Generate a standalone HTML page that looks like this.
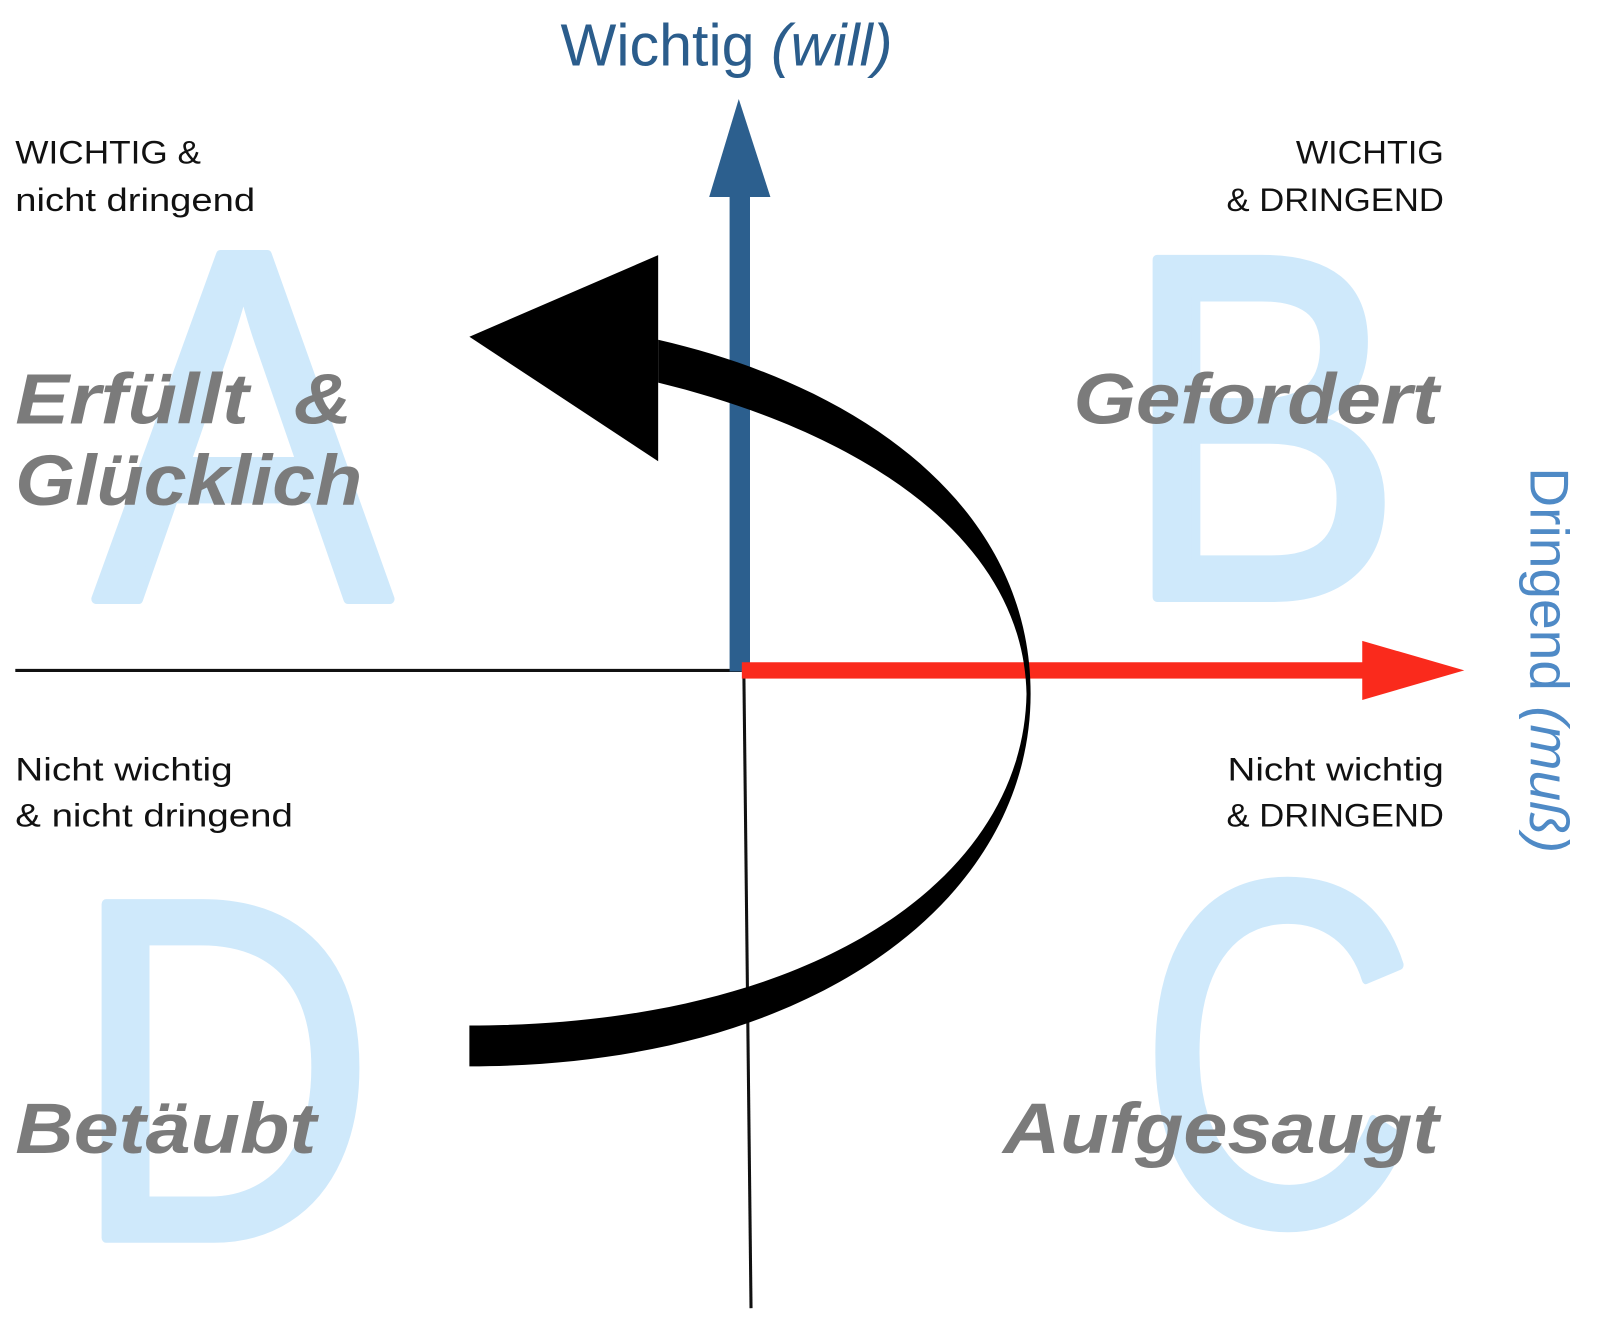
<!DOCTYPE html>
<html><head><meta charset="utf-8"><style>
html,body{margin:0;padding:0;background:#fff}
svg{display:block}
</style></head><body>
<svg width="1600" height="1319" viewBox="0 0 1568 1292.6" preserveAspectRatio="none" xmlns="http://www.w3.org/2000/svg">
<g font-family="Liberation Sans, sans-serif">
<g fill="#cfe9fb" stroke="#cfe9fb" stroke-width="10" stroke-linejoin="round">
<text transform="translate(93,587) scale(0.87,0.98)" font-size="500">A</text>
<text transform="translate(1100,585) scale(0.84,0.98)" font-size="490">B</text>
<text transform="translate(70,1213) scale(0.85,0.98)" font-size="485">D</text>
<text transform="translate(1117,1198) scale(0.77,0.98)" font-size="488">C</text>
</g>
<text x="712" y="64" text-anchor="middle" font-size="58" fill="#2b5d8c">Wichtig <tspan font-style="italic">(will)</tspan></text>
<text transform="translate(1500,647) rotate(90)" text-anchor="middle" font-size="54" fill="#4f8ac6">Dringend <tspan font-style="italic">(muß)</tspan></text>
<g font-size="32" fill="#111">
<text x="15" y="160" textLength="182" lengthAdjust="spacingAndGlyphs">WICHTIG &amp;</text>
<text x="15" y="207" textLength="235" lengthAdjust="spacingAndGlyphs">nicht dringend</text>
<text x="1415" y="160" text-anchor="end" textLength="145" lengthAdjust="spacingAndGlyphs">WICHTIG</text>
<text x="1415" y="207" text-anchor="end" textLength="213" lengthAdjust="spacingAndGlyphs">&amp; DRINGEND</text>
<text x="15" y="765" textLength="213" lengthAdjust="spacingAndGlyphs">Nicht wichtig</text>
<text x="15" y="810" textLength="272" lengthAdjust="spacingAndGlyphs">&amp; nicht dringend</text>
<text x="1415" y="765" text-anchor="end" textLength="212" lengthAdjust="spacingAndGlyphs">Nicht wichtig</text>
<text x="1415" y="810" text-anchor="end" textLength="213" lengthAdjust="spacingAndGlyphs">&amp; DRINGEND</text>
</g>
<g font-size="70" font-weight="bold" font-style="italic" fill="#7b7b7b">
<text x="15" y="415" textLength="330" lengthAdjust="spacingAndGlyphs">Erfüllt&#160;&#160;&amp;</text>
<text x="15" y="495" textLength="340" lengthAdjust="spacingAndGlyphs">Glücklich</text>
<text x="1410" y="415" text-anchor="end" textLength="358" lengthAdjust="spacingAndGlyphs">Gefordert</text>
<text x="15" y="1130" textLength="295" lengthAdjust="spacingAndGlyphs">Betäubt</text>
<text x="1410" y="1130" text-anchor="end" textLength="427" lengthAdjust="spacingAndGlyphs">Aufgesaugt</text>
</g>
</g>
<line x1="15" y1="657" x2="727" y2="657" stroke="#111" stroke-width="3"/>
<line x1="729" y1="660" x2="736" y2="1282" stroke="#111" stroke-width="3"/>
<rect x="715" y="188" width="20" height="470" fill="#2c5f8e"/>
<polygon points="724,97 755,193 695,193" fill="#2c5f8e"/>
<rect x="727" y="649" width="612" height="16" fill="#fa2a1c"/>
<polygon points="1335,628 1435,657 1335,686" fill="#fa2a1c"/>
<path d="M460,1045 C800,1045 1010,880 1010,680 C1010,500 850,380 645,333 L645,375 C850,425 1003,530 1006,680 C1003,860 800,1005 460,1005 Z" fill="#000"/>
<polygon points="460,330 645,250 645,452" fill="#000"/>
</svg>
</body></html>
